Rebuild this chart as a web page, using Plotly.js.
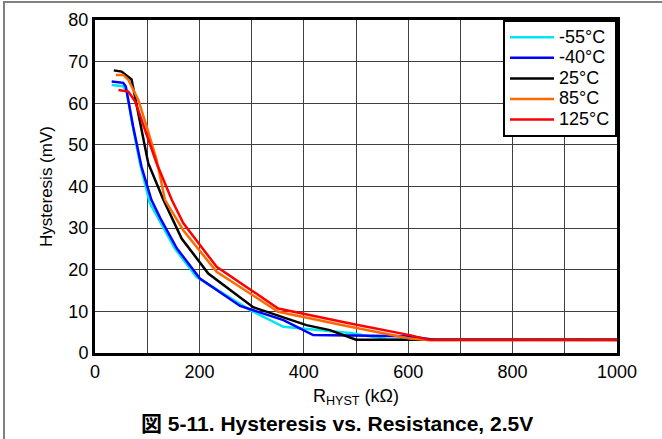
<!DOCTYPE html>
<html>
<head>
<meta charset="utf-8">
<script src="https://cdn.plot.ly/plotly-3.0.1.min.js"></script>
<style>
  html, body { margin: 0; padding: 0; background: #fff; }
  #chart { width: 662px; height: 439px; }
  #frame { position: absolute; left: 3px; top: 1px; width: 700px; height: 500px;
           border-left: 2px solid #808080; border-top: 2px solid #808080; pointer-events: none; }
</style>
</head>
<body>
<div id="chart"></div>
<div id="frame"></div>
<script>
// Series data: RHYST (kOhm) vs Hysteresis (mV)
const seriesNames = ["-55°C", "-40°C", "25°C", "85°C", "125°C"];

const xM55 = [32, 54, 61, 70, 86, 105, 153, 194, 297, 361, 489, 560, 1000];
const yM55 = [64.4, 64.1, 62.8, 56, 45.6, 36, 25.1, 18.3, 10.3, 6.3, 4.8, 3.3, 3.1];

const xM40 = [32, 54, 59, 73, 89, 108, 125, 157, 201, 278, 361, 418, 600, 650, 1000];
const yM40 = [65.2, 64.9, 64.0, 54.4, 44.8, 36.8, 32.4, 25.1, 17.9, 11.3, 7.9, 4.3, 4.0, 3.2, 3.2];

const xP25 = [36, 51, 70, 80, 102, 131, 166, 217, 303, 405, 450, 500, 1000];
const yP25 = [67.9, 67.6, 65.7, 59.2, 45.6, 36.8, 27.5, 19.1, 11.0, 6.7, 5.5, 3.2, 3.2];

const xP85 = [40, 54, 64, 83, 99, 118, 134, 169, 233, 351, 489, 603, 636, 1000];
const yP85 = [66.8, 66.8, 65.6, 60.8, 54.4, 46.4, 36.8, 29.5, 19.5, 9.9, 6.3, 3.5, 3.1, 3.1];

const xP125 = [45, 64, 77, 96, 118, 147, 169, 233, 351, 489, 603, 642, 1000];
const yP125 = [63.2, 62.8, 60.4, 53.6, 45.6, 36.8, 31.2, 20.7, 10.7, 7.1, 4.3, 3.1, 3.1];

const seriesX = [xM55, xM40, xP25, xP85, xP125];
const seriesY = [yM55, yM40, yP25, yP85, yP125];
const seriesColors = ["#00E5EE", "#0000FF", "#000000", "#FF6A00", "#FF0000"];

const xTickVals = [0, 200, 400, 600, 800, 1000];
const yTickVals = [0, 10, 20, 30, 40, 50, 60, 70, 80];

const FONT = "Liberation Sans, Arial, Noto Sans CJK JP, sans-serif";

const traces = seriesNames.map((n, i) => ({
  type: "scatter", mode: "lines",
  name: '<span style="font-size:18px">' + n + '</span>',
  x: seriesX[i], y: seriesY[i],
  line: { color: seriesColors[i], width: 2.5 }
}));

const layout = {
  width: 662, height: 439,
  margin: { l: 95, r: 45, t: 20, b: 86 },
  paper_bgcolor: "#fff", plot_bgcolor: "#fff",
  font: { family: FONT, size: 17, color: "#000" },
  showlegend: true,
  legend: {
    x: 1, xanchor: "right", y: 1, yanchor: "top",
    bgcolor: "#fff", bordercolor: "#000", borderwidth: 2,
    font: { family: FONT, size: 13.5, color: "#000" },
    tracegroupgap: 0, itemwidth: 44
  },
  xaxis: {
    range: [0, 1000], tickvals: xTickVals, ticks: "",
    showline: true, linecolor: "#000", linewidth: 3, mirror: true,
    showgrid: true, gridcolor: "#404040", gridwidth: 1,
    minor: { dtick: 100, showgrid: true, gridcolor: "#404040", gridwidth: 1, ticks: "" },
    zeroline: false, tickfont: { size: 18 },
    title: { text: "R<sub>HYST</sub> (kΩ)", font: { size: 18 }, standoff: 9 }
  },
  yaxis: {
    range: [0, 80], tickvals: yTickVals, ticks: "",
    showline: true, linecolor: "#000", linewidth: 3, mirror: true,
    showgrid: true, gridcolor: "#404040", gridwidth: 1,
    zeroline: false, tickfont: { size: 18 },
    title: { text: "Hysteresis (mV)", font: { size: 17 }, standoff: 12 }
  },
  annotations: [{
    xref: "paper", yref: "paper", x: 0.464, y: -0.213, xanchor: "center", yanchor: "middle",
    text: "<b>図 5-11. Hysteresis vs. Resistance, 2.5V</b>", showarrow: false,
    font: { family: FONT, size: 21, color: "#000" }
  }]
};

Plotly.newPlot("chart", traces, layout, { displayModeBar: false, staticPlot: true });
</script>
</body>
</html>
